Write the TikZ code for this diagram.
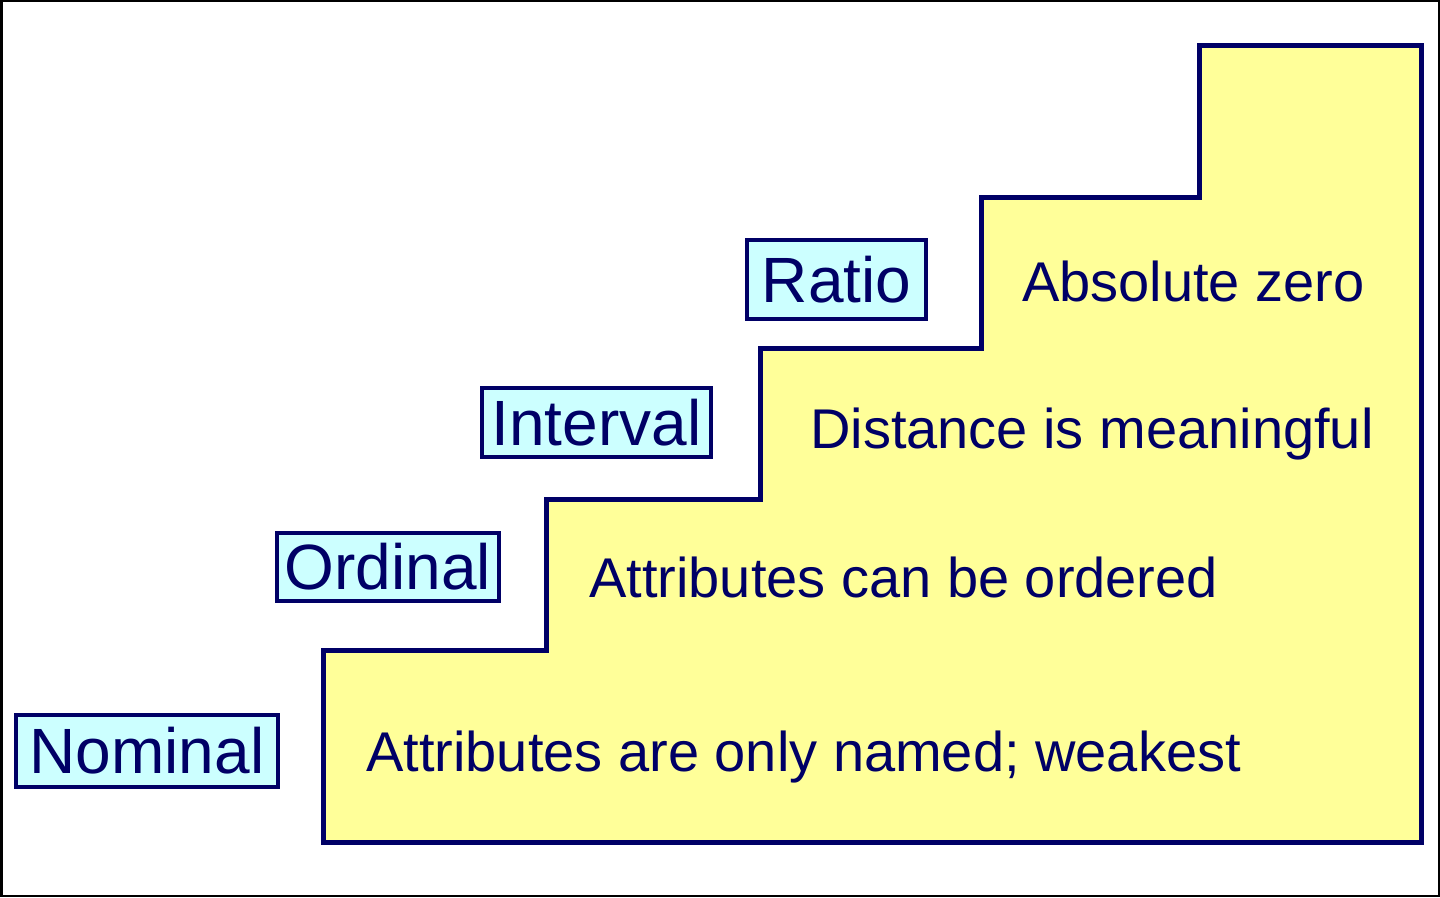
\documentclass[tikz,border=0pt]{standalone}
\usepackage{fontspec}
\setmainfont{Liberation Sans}
\definecolor{stepnavy}{RGB}{0,0,102}
\definecolor{stepyellow}{RGB}{255,255,153}
\definecolor{labelcyan}{RGB}{204,255,255}
\tikzset{
    levelbox/.style={draw=stepnavy, fill=labelcyan, line width=4pt, text=stepnavy,
        font=\fontsize{64}{64}\selectfont, inner xsep=0pt,
        text height=46pt, text depth=0pt},
    leveltext/.style={text=stepnavy, font=\fontsize{56}{56}\selectfont, anchor=base west, inner sep=0pt}
}
\begin{document}
\begin{tikzpicture}[x=1pt,y=1pt]
                % Frame of the picture
                \useasboundingbox (0,0) rectangle (1440,897);
                \draw[line width=2.5pt] (1.25,1.25) rectangle (1438.75,895.75);

                % Draw the staircase
                \draw[stepnavy, fill=stepyellow, line width=5pt, line join=miter]
                    (323,55) -- (323,246) -- (546,246) -- (546,397) -- (760,397)
                    -- (760,548) -- (981,548) -- (981,699) -- (1199,699)
                    -- (1199,851) -- (1421,851) -- (1421,55) -- cycle;

                % Label the levels
                \node[levelbox, minimum width=262pt, minimum height=72pt] (nominal) at (147,146) {Nominal};
                \node[levelbox, minimum width=222pt, minimum height=68pt] (ordinal) at (388,330) {Ordinal};
                \node[levelbox, minimum width=229pt, minimum height=69pt] (interval) at (596.5,474.5) {Interval};
                \node[levelbox, minimum width=179pt, minimum height=79pt] (ratio) at (836.5,617.5) {Ratio};

                % Describe the steps
                \node[leveltext] (named) at (366,125) {Attributes are only named; weakest};
                \node[leveltext] (ordered) at (589,299) {Attributes can be ordered};
                \node[leveltext] (distance) at (810,448) {Distance is meaningful};
                \node[leveltext] (zero) at (1022,595) {Absolute zero};

            \end{tikzpicture}
\end{document}
